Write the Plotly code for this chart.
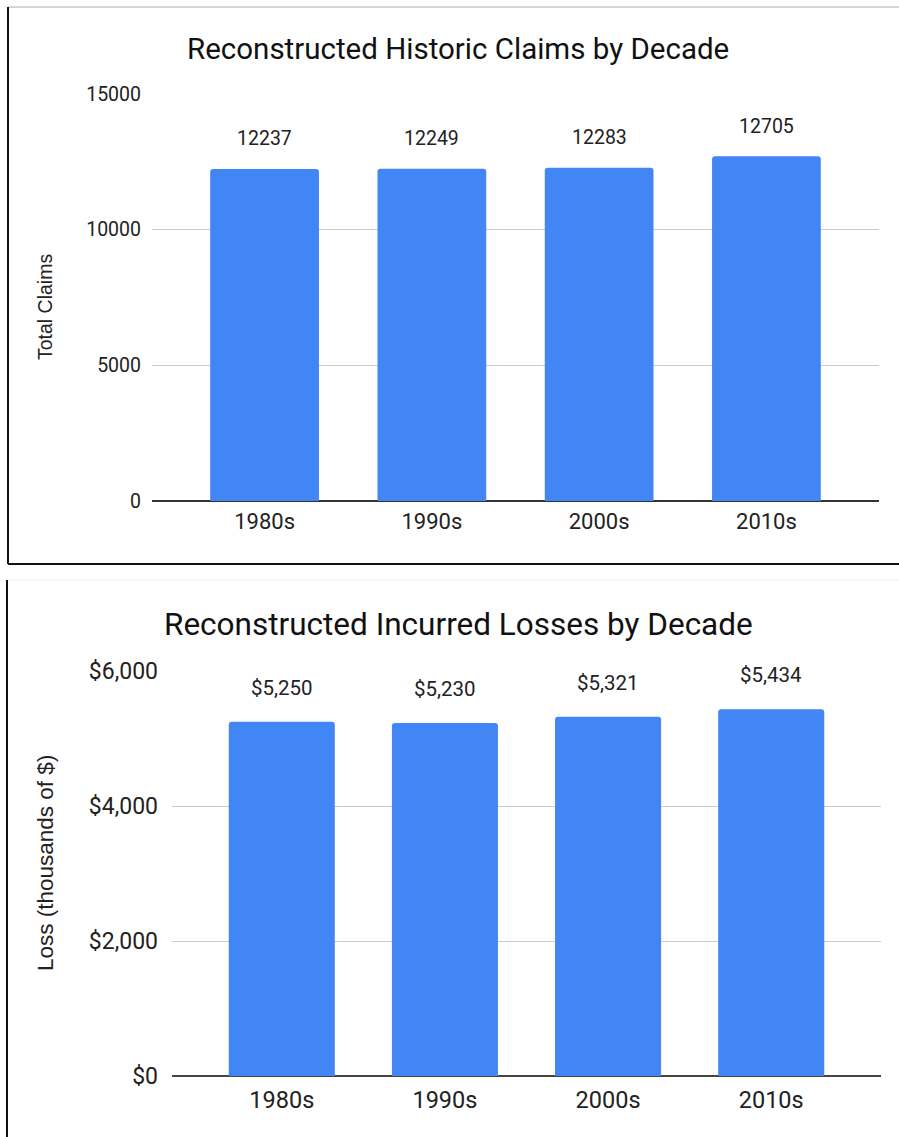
import plotly.graph_objects as go

W, H = 899, 1137

decades = ["1980s", "1990s", "2000s", "2010s"]
claims = [12237, 12249, 12283, 12705]
losses = [5250, 5230, 5321, 5434]

claims_ticks = [0, 5000, 10000, 15000]
claims_tick_text = ["0", "5000", "10000", "15000"]
loss_ticks = [0, 2000, 4000, 6000]
loss_tick_text = ["$0", "$2,000", "$4,000", "$6,000"]

BLUE = "#4285F4"
FONT = "Roboto"
AFONT = "Liberation Sans, Arial"

def px_x(p):
    return p / W

def px_y(p):
    return 1 - p / H

fig = go.Figure()

fig.add_trace(go.Bar(x=decades, y=claims, marker_color=BLUE, xaxis="x", yaxis="y",
                     hoverinfo="skip"))
fig.add_trace(go.Bar(x=decades, y=losses, marker_color=BLUE, xaxis="x2", yaxis="y2",
                     hoverinfo="skip"))

pad = 0.173

def xaxis_cfg(dom, anchor, size, standoff):
    return dict(domain=dom, anchor=anchor, type="category", range=[-0.5 - pad, 3.5 + pad],
                showgrid=False, ticks="", showline=False, zeroline=False, automargin=False,
                ticklabelstandoff=standoff,
                tickfont=dict(family=FONT, size=size, color="#222"))

fig.update_layout(
    width=W, height=H,
    template="none",
    margin=dict(l=0, r=0, t=0, b=0, pad=0),
    paper_bgcolor="white", plot_bgcolor="white",
    showlegend=False,
    bargap=0.35,
    barcornerradius=3,
    font=dict(family=FONT, color="#222"),
    xaxis=xaxis_cfg([px_x(152), px_x(879)], "y", 22, 5),
    yaxis=dict(domain=[px_y(501), px_y(94)], anchor="x", range=[0, 15000],
               tickvals=claims_ticks, ticktext=claims_tick_text,
               showgrid=True, gridcolor="#cccccc", gridwidth=1,
               zeroline=True, zerolinecolor="#333333", zerolinewidth=1.5,
               ticks="", ticklabelstandoff=10, automargin=False, showline=False,
               tickfont=dict(family=FONT, size=19.5, color="#222")),
    xaxis2=xaxis_cfg([px_x(172), px_x(881)], "y2", 23.5, 7),
    yaxis2=dict(domain=[px_y(1076), px_y(671)], anchor="x2", range=[0, 6000],
                tickvals=loss_ticks, ticktext=loss_tick_text,
                showgrid=True, gridcolor="#cccccc", gridwidth=1,
                zeroline=True, zerolinecolor="#444444", zerolinewidth=1.5,
                ticks="", ticklabelstandoff=13, automargin=False, showline=False,
                tickfont=dict(family=FONT, size=23, color="#222")),
)

annotations = []
# titles
annotations.append(dict(text="Reconstructed Historic Claims by Decade", x=px_x(458), y=px_y(49),
                        xref="paper", yref="paper", showarrow=False, xanchor="center", yanchor="middle",
                        font=dict(family=FONT, size=29.5, color="#111")))
annotations.append(dict(text="Reconstructed Incurred Losses by Decade", x=px_x(458), y=px_y(624),
                        xref="paper", yref="paper", showarrow=False, xanchor="center", yanchor="middle",
                        font=dict(family=FONT, size=31.5, color="#111")))
# axis titles
annotations.append(dict(text="Total Claims", x=px_x(45), y=px_y(307), xref="paper", yref="paper",
                        showarrow=False, textangle=-90, xanchor="center", yanchor="middle",
                        font=dict(family=AFONT, size=19.5, color="#222")))
annotations.append(dict(text="Loss (thousands of $)", x=px_x(45), y=px_y(863), xref="paper", yref="paper",
                        showarrow=False, textangle=-90, xanchor="center", yanchor="middle",
                        font=dict(family=AFONT, size=22.5, color="#222")))
# data labels
for d, v in zip(decades, claims):
    annotations.append(dict(text=str(v), x=d, y=v, xref="x", yref="y", showarrow=False,
                            yanchor="middle", yshift=30,
                            font=dict(family=FONT, size=19.5, color="#222")))
for d, v in zip(decades, losses):
    annotations.append(dict(text="${:,}".format(v), x=d, y=v, xref="x2", yref="y2", showarrow=False,
                            yanchor="middle", yshift=34,
                            font=dict(family=FONT, size=20.5, color="#222")))
fig.update_layout(annotations=annotations)

# panel borders
shapes = [
    dict(type="line", xref="paper", yref="paper", x0=px_x(8), x1=1, y0=px_y(7), y1=px_y(7),
         line=dict(color="#aaaaaa", width=1)),
    dict(type="line", xref="paper", yref="paper", x0=px_x(8), x1=px_x(8), y0=px_y(7), y1=px_y(564),
         line=dict(color="#111111", width=2)),
    dict(type="line", xref="paper", yref="paper", x0=px_x(8), x1=1, y0=px_y(564), y1=px_y(564),
         line=dict(color="#111111", width=2)),
    dict(type="line", xref="paper", yref="paper", x0=px_x(7), x1=1, y0=px_y(580), y1=px_y(580),
         line=dict(color="#eeeeee", width=1)),
    dict(type="line", xref="paper", yref="paper", x0=px_x(7), x1=px_x(7), y0=px_y(580), y1=0,
         line=dict(color="#111111", width=2)),
]
fig.update_layout(shapes=shapes)

fig.write_html("out.html")
